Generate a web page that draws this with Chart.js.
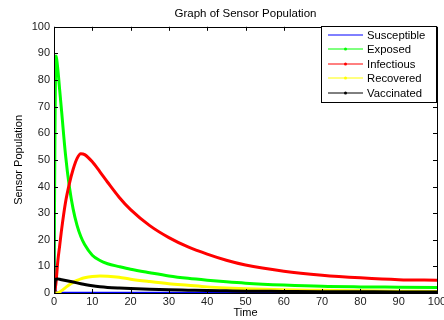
<!DOCTYPE html>
<html>
<head>
<meta charset="utf-8">
<script src="https://cdn.jsdelivr.net/npm/chart.js@4"></script>
<style>
  html, body { margin: 0; padding: 0; background: #fff; }
  #wrap { width: 444px; height: 320px; }
</style>
</head>
<body>
<div id="wrap"><canvas id="chart" width="444" height="320"></canvas></div>
<script>
// time points (denser at the start where things move fast)
const time        = [0, 0.25, 0.5, 1, 1.5, 2, 3, 4, 5, 6, 7, 8, 10, 12, 14, 17, 20, 25, 30, 35, 40, 45, 50, 60, 70, 80, 90, 100];

const susceptible = [100, 15, 1, 0.2, 0.2, 0.2, 0.2, 0.2, 0.2, 0.2, 0.2, 0.2, 0.2, 0.2, 0.2, 0.2, 0.2, 0.2, 0.2, 0.2, 0.2, 0.2, 0.2, 0.2, 0.2, 0.2, 0.2, 0.2];
const exposed     = [0, 60, 89, 84, 76, 68, 52, 40, 31.5, 25.5, 21.2, 18.2, 14.2, 12.2, 11, 9.9, 8.9, 7.6, 6.4, 5.5, 4.8, 4.2, 3.7, 3.0, 2.5, 2.3, 2.2, 2.1];
const infectious  = [0, 1, 3.5, 12, 18, 24, 34, 41, 46.5, 50.5, 52.3, 52, 49.3, 45.5, 41.6, 36, 31.3, 25.3, 20.8, 17.3, 14.6, 12.3, 10.5, 8.2, 6.7, 5.7, 5.0, 4.8];
const recovered   = [0, 0, 0, 0, 0.4, 0.9, 2, 3.1, 4, 4.7, 5.3, 5.7, 6.2, 6.4, 6.3, 5.9, 5.2, 4.3, 3.5, 2.9, 2.3, 1.9, 1.6, 1.2, 1.0, 0.8, 0.7, 0.6];
const vaccinated  = [0, 4, 5.2, 5.3, 5.15, 5.0, 4.7, 4.4, 4.1, 3.8, 3.5, 3.2, 2.7, 2.35, 2.1, 1.85, 1.65, 1.4, 1.2, 1.05, 0.9, 0.8, 0.7, 0.6, 0.5, 0.45, 0.4, 0.4];

const seriesNames = ['Susceptible', 'Exposed', 'Infectious', 'Recovered', 'Vaccinated'];
const seriesColors = ['#0000ff', '#00ff00', '#ff0000', '#ffff00', '#000000'];
const tickValues = [0, 10, 20, 30, 40, 50, 60, 70, 80, 90, 100];

const font = 'Liberation Sans, Arial, sans-serif';
const allSeries = [susceptible, exposed, infectious, recovered, vaccinated];

const datasets = allSeries.map((vals, i) => ({
  label: seriesNames[i],
  data: time.map((t, k) => ({ x: t, y: vals[k] })),
  borderColor: seriesColors[i],
  backgroundColor: seriesColors[i],
  borderWidth: i === 0 ? 1.5 : 3,
  pointRadius: 0,
  cubicInterpolationMode: 'monotone',
  order: 5 - i
}));

// box, inward ticks and legend like the matlab figure
const boxPlugin = {
  id: 'matlabBox',
  afterDraw(chart) {
    const { ctx, chartArea: a, scales } = chart;
    ctx.save();
    ctx.strokeStyle = '#000';
    ctx.lineWidth = 1;
    ctx.strokeRect(Math.round(a.left) + 0.5, Math.round(a.top) + 0.5,
      Math.round(a.right - a.left), Math.round(a.bottom - a.top));
    ctx.beginPath();
    tickValues.forEach(v => {
      const x = Math.round(scales.x.getPixelForValue(v)) + 0.5;
      ctx.moveTo(x, a.bottom); ctx.lineTo(x, a.bottom - 4);
      ctx.moveTo(x, a.top); ctx.lineTo(x, a.top + 4);
      const y = Math.round(scales.y.getPixelForValue(v)) + 0.5;
      ctx.moveTo(a.left, y); ctx.lineTo(a.left + 4, y);
      ctx.moveTo(a.right, y); ctx.lineTo(a.right - 4, y);
    });
    ctx.stroke();

    // legend
    const lx = 321.5, ly = 26.5, lw = 115, lh = 76;
    ctx.fillStyle = '#fff';
    ctx.fillRect(lx, ly, lw, lh);
    ctx.strokeRect(lx, ly, lw, lh);
    ctx.font = '11.3px ' + font;
    ctx.textBaseline = 'middle';
    seriesNames.forEach((name, i) => {
      const y = Math.round(35 + i * 14.4);
      ctx.strokeStyle = seriesColors[i];
      ctx.lineWidth = 1;
      ctx.beginPath();
      ctx.moveTo(328, y); ctx.lineTo(363, y);
      ctx.stroke();
      if (i > 0) {
        ctx.fillStyle = seriesColors[i];
        ctx.beginPath();
        ctx.arc(345.5, y, 1.5, 0, Math.PI * 2);
        ctx.fill();
      }
      ctx.fillStyle = '#000';
      ctx.fillText(name, 367, y + 0.5);
    });
    ctx.restore();
  }
};

new Chart(document.getElementById('chart'), {
  type: 'line',
  data: { datasets },
  options: {
    responsive: false,
    animation: false,
    layout: { padding: { left: 0, right: 7, top: 0, bottom: 0 } },
    plugins: {
      legend: { display: false },
      tooltip: { enabled: false },
      title: {
        display: true,
        fullSize: false,
        text: 'Graph of Sensor Population',
        color: '#000',
        font: { family: font, size: 11.5, weight: 'normal' },
        padding: { top: 7, bottom: 6 }
      }
    },
    scales: {
      x: {
        type: 'linear',
        min: 0,
        max: 100,
        grid: { display: false, drawTicks: false },
        border: { display: false },
        ticks: {
          stepSize: 10,
          padding: 2,
          color: '#222',
          maxRotation: 0,
          font: { family: font, size: 11 }
        },
        title: {
          display: true,
          text: 'Time',
          color: '#000',
          font: { family: font, size: 11 },
          padding: { top: 0, bottom: 0 }
        },
        afterFit(scale) {
          scale.height = 27;
          scale.paddingLeft = 0;
          scale.paddingRight = 0;
        }
      },
      y: {
        min: 0,
        max: 100,
        grid: { display: false, drawTicks: false },
        border: { display: false },
        ticks: {
          stepSize: 10,
          padding: 4,
          color: '#222',
          font: { family: font, size: 11 }
        },
        title: {
          display: true,
          text: 'Sensor Population',
          color: '#000',
          font: { family: font, size: 11 },
          padding: { top: 12, bottom: 0 }
        },
        afterFit(scale) {
          scale.width = 54;
          scale.paddingTop = 0;
          scale.paddingBottom = 0;
        }
      }
    }
  },
  plugins: [boxPlugin]
});
</script>
</body>
</html>
